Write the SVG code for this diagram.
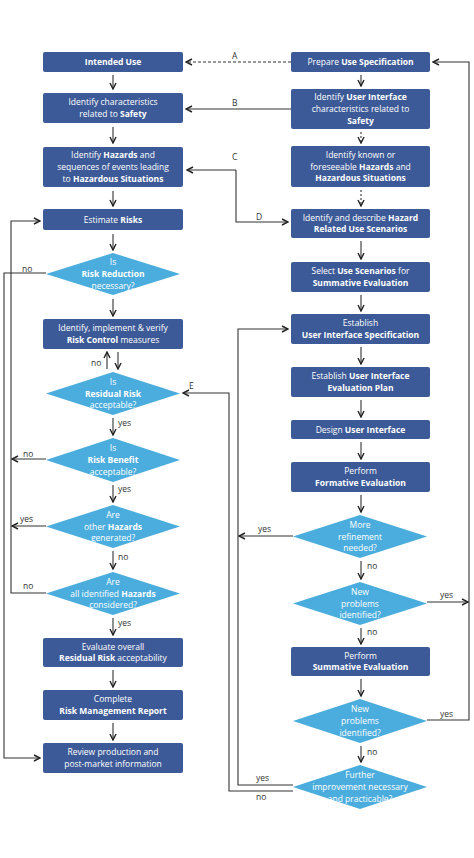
<svg xmlns="http://www.w3.org/2000/svg" width="474" height="858" viewBox="0 0 474 858">
<style>
.box{fill:#3d5a98}
.dia{fill:#4badde}
.t{font-family:"Open Sans","DejaVu Sans",sans-serif;font-size:8.5px;fill:#fff;text-anchor:middle}
.b{font-weight:700}
.ln{fill:none;stroke:#333;stroke-width:1.1}
.ar{marker-end:url(#ah)}
.dash{stroke-dasharray:3,2}
.dot{stroke-dasharray:2,2}
.lbl{font-family:"Open Sans","DejaVu Sans",sans-serif;font-size:8.5px;fill:#333}
</style>
<defs>
<marker id="ah" viewBox="0 0 8 8" refX="7" refY="4" markerWidth="8" markerHeight="8" markerUnits="userSpaceOnUse" orient="auto">
<path d="M1,1 L7,4 L1,7" fill="none" stroke="#222" stroke-width="1.4"/>
</marker>
</defs>
<rect width="474" height="858" fill="#fff"/>

<g id="connectors">
<path class="ln ar" d="M113,75 V89"/>
<path class="ln ar" d="M113,127 V143"/>
<path class="ln ar" d="M113,191 V206"/>
<path class="ln ar" d="M113,234 V250"/>
<path class="ln ar" d="M113,299 V316"/>
<path class="ln ar" d="M107,369 V352"/>
<path class="ln ar" d="M118,352 V369"/>
<path class="ln ar" d="M113,418 V435"/>
<path class="ln ar" d="M113,485 V502"/>
<path class="ln ar" d="M113,551 V569"/>
<path class="ln ar" d="M113,618 V635"/>
<path class="ln ar" d="M113,670 V687"/>
<path class="ln ar" d="M113,723 V740"/>

<path class="ln ar" d="M361,75 V86"/>
<path class="ln ar dot" d="M361,132 V143"/>
<path class="ln ar dot" d="M361,190 V206"/>
<path class="ln ar" d="M361,241 V259"/>
<path class="ln ar" d="M361,295 V311"/>
<path class="ln ar" d="M361,347 V364"/>
<path class="ln ar" d="M361,400 V417"/>
<path class="ln ar" d="M361,442 V459"/>
<path class="ln ar" d="M361,495 V512"/>
<path class="ln ar" d="M361,561 V579"/>
<path class="ln ar" d="M361,628 V644"/>
<path class="ln ar" d="M361,679 V696"/>
<path class="ln ar" d="M361,746 V762"/>

<path class="ln ar dash" d="M291,62 H186"/>
<path class="ln ar" d="M291,109 H186"/>
<path class="ln ar" d="M236,170 H187"/>
<path class="ln ar" d="M236,170 V222 H288"/>

<path class="ln ar" d="M427,720 H469 V62 H433"/>
<path class="ln ar" d="M427,602 H468"/>
<path class="ln ar" d="M293,791 H229 V393 H183"/>
<path class="ln ar" d="M293,785 H238 V329 H288"/>
<path class="ln ar" d="M293,536 H239"/>

<path class="ln ar" d="M46,273 H4 V758 H40"/>
<path class="ln ar" d="M46,593 H11 V221 H40"/>
<path class="ln ar" d="M46,459 H12"/>
<path class="ln ar" d="M46,526 H12"/>

<text class="lbl" x="232" y="59">A</text>
<text class="lbl" x="232" y="106">B</text>
<text class="lbl" x="232" y="160">C</text>
<text class="lbl" x="256" y="220">D</text>
<text class="lbl" x="189" y="389">E</text>
<text class="lbl" x="22" y="272">no</text>
<text class="lbl" x="91" y="366">no</text>
<text class="lbl" x="118" y="426">yes</text>
<text class="lbl" x="23" y="457">no</text>
<text class="lbl" x="118" y="492">yes</text>
<text class="lbl" x="20" y="522">yes</text>
<text class="lbl" x="118" y="560">no</text>
<text class="lbl" x="23" y="589">no</text>
<text class="lbl" x="118" y="626">yes</text>
<text class="lbl" x="258" y="532">yes</text>
<text class="lbl" x="367" y="569">no</text>
<text class="lbl" x="440" y="598">yes</text>
<text class="lbl" x="367" y="635">no</text>
<text class="lbl" x="440" y="717">yes</text>
<text class="lbl" x="367" y="755">no</text>
<text class="lbl" x="256" y="781">yes</text>
<text class="lbl" x="256" y="800">no</text>
</g>

<g id="intended-use"><rect class="box" x="43" y="52" width="140" height="20" rx="2"/><text class="t b" x="113" y="65">Intended Use</text></g>
<g id="identify-safety"><rect class="box" x="43" y="93" width="140" height="30" rx="2"/><text class="t" x="113" y="105.2">Identify characteristics</text><text class="t" x="113" y="116.8">related to <tspan class="b">Safety</tspan></text></g>
<g id="identify-hazards"><rect class="box" x="43" y="147" width="140" height="40" rx="2"/><text class="t" x="113" y="158.4">Identify <tspan class="b">Hazards</tspan> and</text><text class="t" x="113" y="170">sequences of events leading</text><text class="t" x="113" y="181.6">to <tspan class="b">Hazardous Situations</tspan></text></g>
<g id="estimate-risks"><rect class="box" x="43" y="209" width="140" height="21" rx="2"/><text class="t" x="113" y="222.5">Estimate <tspan class="b">Risks</tspan></text></g>
<g id="risk-reduction"><polygon class="dia" points="113,253 180,274 113,295 46,274"/><text class="t" x="113" y="265.4">Is</text><text class="t b" x="113" y="277">Risk Reduction</text><text class="t" x="113" y="288.6">necessary?</text></g>
<g id="risk-control"><rect class="box" x="43" y="319" width="140" height="30" rx="2"/><text class="t" x="113" y="331.2">Identify, implement &amp; verify</text><text class="t" x="113" y="342.8"><tspan class="b">Risk Control</tspan> measures</text></g>
<g id="residual-risk"><polygon class="dia" points="113,372 180,393.5 113,415 46,393.5"/><text class="t" x="113" y="384.9">Is</text><text class="t b" x="113" y="396.5">Residual Risk</text><text class="t" x="113" y="408.1">acceptable?</text></g>
<g id="risk-benefit"><polygon class="dia" points="113,438 180,460 113,482 46,460"/><text class="t" x="113" y="451.4">Is</text><text class="t b" x="113" y="463">Risk Benefit</text><text class="t" x="113" y="474.6">acceptable?</text></g>
<g id="other-hazards"><polygon class="dia" points="113,505 180,526.5 113,548 46,526.5"/><text class="t" x="113" y="517.9">Are</text><text class="t" x="113" y="529.5">other <tspan class="b">Hazards</tspan></text><text class="t" x="113" y="541.1">generated?</text></g>
<g id="all-hazards"><polygon class="dia" points="113,572 180,593.5 113,615 46,593.5"/><text class="t" x="113" y="584.9">Are</text><text class="t" x="113" y="596.5">all identified <tspan class="b">Hazards</tspan></text><text class="t" x="113" y="608.1">considered?</text></g>
<g id="evaluate-overall"><rect class="box" x="43" y="638" width="140" height="29" rx="2"/><text class="t" x="113" y="649.7">Evaluate overall</text><text class="t" x="113" y="661.3"><tspan class="b">Residual Risk</tspan> acceptability</text></g>
<g id="complete-report"><rect class="box" x="43" y="690" width="140" height="30" rx="2"/><text class="t" x="113" y="702.2">Complete</text><text class="t b" x="113" y="713.8">Risk Management Report</text></g>
<g id="review-production"><rect class="box" x="43" y="743" width="140" height="30" rx="2"/><text class="t" x="113" y="755.2">Review production and</text><text class="t" x="113" y="766.8">post-market information</text></g>

<g id="prepare-use-spec"><rect class="box" x="291" y="52" width="139" height="20" rx="2"/><text class="t" x="360.5" y="65">Prepare <tspan class="b">Use Specification</tspan></text></g>
<g id="identify-ui"><rect class="box" x="291" y="89" width="139" height="40" rx="2"/><text class="t" x="360.5" y="100.4">Identify <tspan class="b">User Interface</tspan></text><text class="t" x="360.5" y="112">characteristics related to</text><text class="t b" x="360.5" y="123.6">Safety</text></g>
<g id="identify-known"><rect class="box" x="291" y="146" width="139" height="41" rx="2"/><text class="t" x="360.5" y="157.9">Identify known or</text><text class="t" x="360.5" y="169.5">foreseeable <tspan class="b">Hazards</tspan> and</text><text class="t b" x="360.5" y="181.1">Hazardous Situations</text></g>
<g id="describe-scenarios"><rect class="box" x="291" y="209" width="139" height="29" rx="2"/><text class="t" x="360.5" y="220.7">Identify and describe <tspan class="b">Hazard</tspan></text><text class="t b" x="360.5" y="232.3">Related Use Scenarios</text></g>
<g id="select-scenarios"><rect class="box" x="291" y="262" width="139" height="30" rx="2"/><text class="t" x="360.5" y="274.2">Select <tspan class="b">Use Scenarios</tspan> for</text><text class="t b" x="360.5" y="285.8">Summative Evaluation</text></g>
<g id="ui-spec"><rect class="box" x="291" y="314" width="139" height="30" rx="2"/><text class="t" x="360.5" y="326.2">Establish</text><text class="t b" x="360.5" y="337.8">User Interface Specification</text></g>
<g id="ui-eval-plan"><rect class="box" x="291" y="367" width="139" height="30" rx="2"/><text class="t" x="360.5" y="379.2">Establish <tspan class="b">User Interface</tspan></text><text class="t b" x="360.5" y="390.8">Evaluation Plan</text></g>
<g id="design-ui"><rect class="box" x="291" y="420" width="139" height="19" rx="2"/><text class="t" x="360.5" y="432.5">Design <tspan class="b">User Interface</tspan></text></g>
<g id="formative"><rect class="box" x="291" y="462" width="139" height="30" rx="2"/><text class="t" x="360.5" y="474.2">Perform</text><text class="t b" x="360.5" y="485.8">Formative Evaluation</text></g>
<g id="more-refinement"><polygon class="dia" points="360,515 427,536.5 360,558 293,536.5"/><text class="t" x="360" y="527.9">More</text><text class="t" x="360" y="539.5">refinement</text><text class="t" x="360" y="551.1">needed?</text></g>
<g id="new-problems-1"><polygon class="dia" points="360,582 427,603.5 360,625 293,603.5"/><text class="t" x="360" y="594.9">New</text><text class="t" x="360" y="606.5">problems</text><text class="t" x="360" y="618.1">identified?</text></g>
<g id="summative"><rect class="box" x="291" y="647" width="139" height="29" rx="2"/><text class="t" x="360.5" y="658.7">Perform</text><text class="t b" x="360.5" y="670.3">Summative Evaluation</text></g>
<g id="new-problems-2"><polygon class="dia" points="360,699 427,721 360,743 293,721"/><text class="t" x="360" y="712.4">New</text><text class="t" x="360" y="724">problems</text><text class="t" x="360" y="735.6">identified?</text></g>
<g id="further-improvement"><polygon class="dia" points="360,765 427,787 360,809 293,787"/><text class="t" x="360" y="778.4">Further</text><text class="t" x="360" y="790">improvement necessary</text><text class="t" x="360" y="801.6">and practicable?</text></g>
</svg>
